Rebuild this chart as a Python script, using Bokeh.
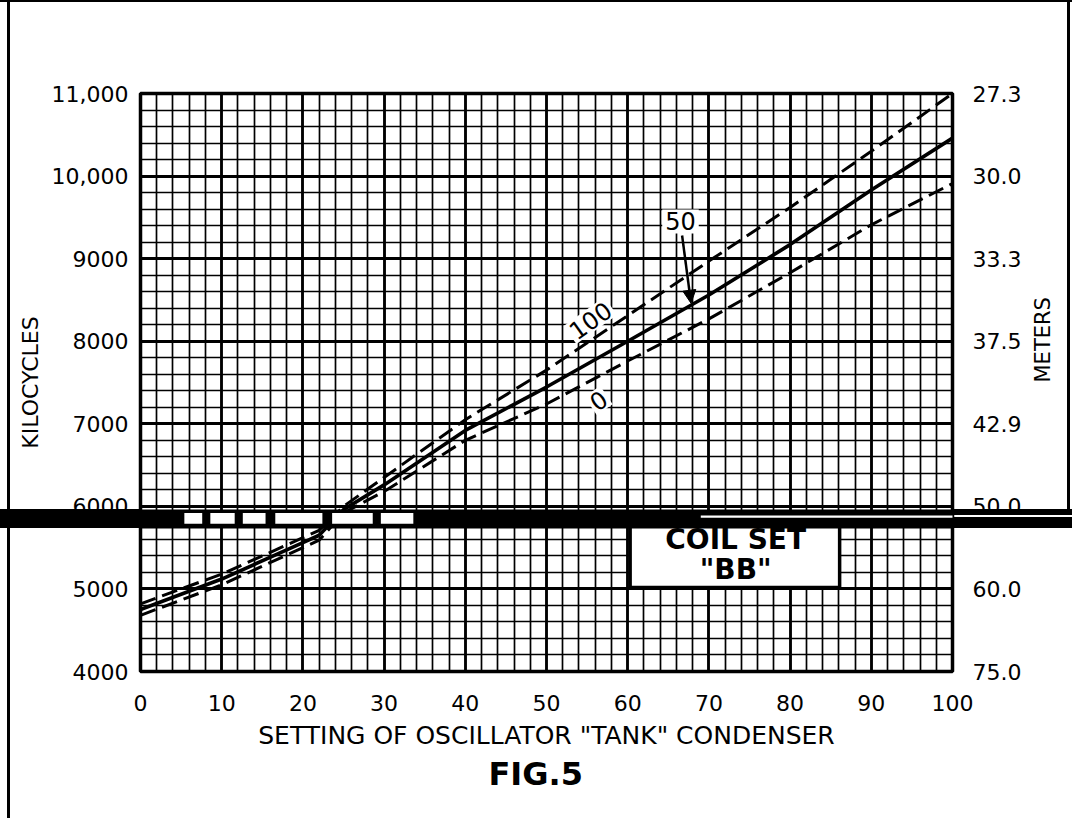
import math
from bokeh.plotting import figure
from bokeh.models import (Range1d, LinearAxis, FixedTicker, Grid, Label, Arrow,
                          NormalHead, BoxAnnotation, Title)
from bokeh.embed import file_html
from bokeh.resources import INLINE

# ---- data ----
setting = [0, 10, 20, 22, 25, 30, 40, 50, 60, 70, 80, 90, 100]
kc_trim_100 = [4820, 5180, 5620, 5710, 6000, 6350, 7050, 7650, 8310, 8970, 9620, 10300, 11000]
kc_trim_50 = [4750, 5120, 5560, 5650, 5960, 6260, 6920, 7445, 8000, 8560, 9170, 9830, 10460]
kc_trim_0 = [4680, 5050, 5500, 5590, 5920, 6180, 6800, 7240, 7760, 8270, 8830, 9410, 9910]

x_ticks = [0, 10, 20, 30, 40, 50, 60, 70, 80, 90, 100]
kc_ticks = [4000, 5000, 6000, 7000, 8000, 9000, 10000, 11000]
kc_tick_labels = ["4000", "5000", "6000", "7000", "8000", "9000", "10,000", "11,000"]
meter_labels = ["75.0", "60.0", "50.0", "42.9", "37.5", "33.3", "30.0", "27.3"]

x_minor = list(range(0, 101, 2))
kc_minor = list(range(4000, 11001, 200))

FONT = "DejaVu Sans"

p = figure(width=1072, height=818, output_backend="svg", toolbar_location=None,
           x_range=Range1d(0, 100), y_range=Range1d(4000, 11000),
           min_border_left=140, min_border_right=120, min_border_top=93,
           min_border_bottom=147, background_fill_color="white",
           border_fill_color=None)

# scanned-page decoration (page edges and the black scan band outside the frame)
p.styles = {
    "background": (
        "linear-gradient(#000,#000) 7px 0 / 3px 100% no-repeat, "
        "linear-gradient(#fff,#fff) 952px 515px / 120px 2px no-repeat, "
        "linear-gradient(#000,#000) 0 509px / 100% 19px no-repeat, "
        "linear-gradient(#000,#000) 1067px 0 / 3px 509px no-repeat, "
        "linear-gradient(#000,#000) 0 0 / 100% 2px no-repeat, "
        "#fff"
    )
}

p.outline_line_color = "black"
p.outline_line_width = 3.5

# grid
p.xgrid.ticker = FixedTicker(ticks=x_minor)
p.ygrid.ticker = FixedTicker(ticks=kc_minor)
p.grid.grid_line_color = "black"
p.grid.grid_line_width = 1.7
p.grid.grid_line_alpha = 1.0
p.add_layout(Grid(dimension=0, ticker=FixedTicker(ticks=x_ticks),
                  grid_line_color="black", grid_line_width=2.8))
p.add_layout(Grid(dimension=1, ticker=FixedTicker(ticks=kc_ticks),
                  grid_line_color="black", grid_line_width=2.8))

# axes
def style_axis(ax):
    ax.axis_line_color = None
    ax.major_tick_line_color = None
    ax.minor_tick_line_color = None
    ax.major_tick_out = 0
    ax.major_tick_in = 0
    ax.major_label_text_font = FONT
    ax.major_label_text_font_size = "22px"
    ax.major_label_text_color = "black"
    ax.axis_label_text_font = FONT
    ax.axis_label_text_font_style = "normal"
    ax.axis_label_text_color = "black"

p.xaxis.ticker = FixedTicker(ticks=x_ticks)
p.xaxis.major_label_overrides = {t: str(t) for t in x_ticks}
style_axis(p.xaxis[0])
p.xaxis.major_label_standoff = 23
p.xaxis.axis_label = 'SETTING OF OSCILLATOR "TANK" CONDENSER'
p.xaxis.axis_label_text_font_size = "25px"
p.xaxis.axis_label_standoff = 7

p.yaxis.ticker = FixedTicker(ticks=kc_ticks)
p.yaxis.major_label_overrides = dict(zip(kc_ticks, kc_tick_labels))
style_axis(p.yaxis[0])
p.yaxis.major_label_standoff = 12
p.yaxis.axis_label = "KILOCYCLES"
p.yaxis.axis_label_text_font_size = "22px"
p.yaxis.axis_label_standoff = 6

right = LinearAxis(ticker=FixedTicker(ticks=kc_ticks),
                   major_label_overrides=dict(zip(kc_ticks, meter_labels)))
style_axis(right)
right.major_label_standoff = 20
right.axis_label = "METERS"
right.axis_label_text_font_size = "21px"
right.axis_label_standoff = 19
if "axis_label_orientation" in right.properties():
    right.axis_label_orientation = math.pi / 2
p.add_layout(right, "right")

# figure caption below the axis title
fig_title = Title(text="FIG.5", align="left", text_font=FONT, text_font_size="32px",
                  text_font_style="bold", text_color="black", offset=348)
if "standoff" in fig_title.properties():
    fig_title.standoff = 0
p.add_layout(fig_title, "below")

# curves
p.line(setting, kc_trim_100, line_color="black", line_width=3, line_dash="16 7")
p.line(setting, kc_trim_50, line_color="black", line_width=3.6)
p.line(setting, kc_trim_0, line_color="black", line_width=3, line_dash="16 7")

# coil set box
p.quad(left=[60.3], right=[86.1], bottom=[5018], top=[5830],
       fill_color="white", line_color="black", line_width=3.5)
p.add_layout(Label(x=73.3, y=5600, text="COIL SET", text_font=FONT,
                   text_font_size="28px", text_font_style="bold", text_align="center",
                   text_baseline="middle", text_color="black"))
p.add_layout(Label(x=73.3, y=5236, text='"BB"', text_font=FONT,
                   text_font_size="28px", text_font_style="bold", text_align="center",
                   text_baseline="middle", text_color="black"))

# curve labels
p.add_layout(Label(x=66.5, y=9450, text="50", text_font=FONT, text_font_size="24px",
                   text_align="center", text_baseline="middle", text_color="black",
                   background_fill_color="white", padding=3))
p.add_layout(Label(x=55.4, y=8251, text="100", text_font=FONT, text_font_size="24px",
                   text_align="center", text_baseline="middle", text_color="black",
                   angle=0.62, background_fill_color="white", padding=2))
p.add_layout(Label(x=56.4, y=7282, text="0", text_font=FONT, text_font_size="24px",
                   text_align="center", text_baseline="middle", text_color="black",
                   angle=0.6, background_fill_color="white", padding=2))
p.add_layout(Arrow(x_start=66.7, y_start=9280, x_end=67.8, y_end=8460,
                   line_color="black", line_width=2.5,
                   end=NormalHead(size=13, fill_color="black", line_color="black")))

# scan band inside the frame, with the white remnants seen in it
p.add_layout(BoxAnnotation(left=-30, right=130, bottom=5732, top=5962,
                           fill_color="black", fill_alpha=1.0, line_color=None,
                           level="overlay"))
p.add_layout(BoxAnnotation(left=69, right=130, bottom=5862, top=5888,
                           fill_color="white", fill_alpha=1.0, line_color=None,
                           level="overlay"))
for l, r in [(5.4, 7.6), (8.6, 11.6), (12.6, 15.4), (16.6, 22.4), (23.6, 28.6), (29.6, 33.6)]:
    p.add_layout(BoxAnnotation(left=l, right=r, bottom=5790, top=5920,
                               fill_color="white", fill_alpha=1.0, line_color=None,
                               level="overlay"))

open("out.html", "w").write(file_html(p, INLINE))
